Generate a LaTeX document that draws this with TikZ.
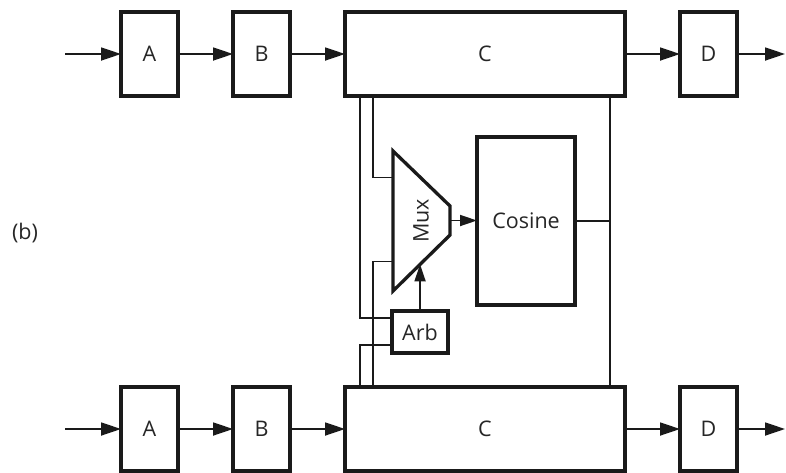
\documentclass[tikz,border=0pt]{standalone}
\usepackage{fontspec}
\setmainfont{Open Sans}
\usepackage{tikz}
\usetikzlibrary{arrows.meta,positioning,calc}
\definecolor{lnblack}{HTML}{1A1A1A}
\definecolor{txtgray}{HTML}{262626}
\newcommand{\lblfont}{\fontsize{21.5}{25}\selectfont}
\tikzset{
  flowarrow/.style={-{Triangle[length=20pt,width=13pt]}, line width=1.8pt, draw=lnblack},
  smallarrow/.style={-{Triangle[length=17pt,width=11pt]}, line width=1.8pt, draw=lnblack},
  wire/.style={line width=1.7pt, draw=lnblack},
  stage/.style={draw=lnblack, line width=3.3pt, minimum width=57pt, minimum height=84pt,
    inner sep=0pt, outer sep=0pt, text=txtgray, font=\lblfont},
  unit/.style={draw=lnblack, line width=3.3pt, inner sep=0pt, outer sep=0pt,
    text=txtgray, font=\lblfont},
  muxshape/.style={draw=lnblack, line width=3.3pt, line join=miter},
  tag/.style={text=txtgray, font=\lblfont, inner sep=0pt}
}

\begin{document}
\begin{tikzpicture}[x=1pt, y=-1pt, node distance=55pt]
        \useasboundingbox (0,0) rectangle (786,472);
        \node[tag] (lbl) at (25,233) {(b)};

        \node[stage] (a1) at (149.5,54) {A};
        \node[stage, right=of a1] (b1) {B};
        \node[stage, right=of b1, minimum width=280pt] (c1) {C};
        \node[stage, right=of c1] (d1) {D};
        \coordinate (in1) at (65,54);
        \coordinate (out1) at (785,54);

        \node[stage] (a2) at (149.5,429) {A};
        \node[stage, right=of a2] (b2) {B};
        \node[stage, right=of b2, minimum width=280pt] (c2) {C};
        \node[stage, right=of c2] (d2) {D};
        \coordinate (in2) at (65,429);
        \coordinate (out2) at (785,429);

        \draw[flowarrow] (in1) -- (a1);
        \draw[flowarrow] (a1) -- (b1);
        \draw[flowarrow] (b1) -- (c1);
        \draw[flowarrow] (c1) -- (d1);
        \draw[flowarrow] (d1) -- (out1);
        \draw[flowarrow] (in2) -- (a2);
        \draw[flowarrow] (a2) -- (b2);
        \draw[flowarrow] (b2) -- (c2);
        \draw[flowarrow] (c2) -- (d2);
        \draw[flowarrow] (d2) -- (out2);

        \coordinate (mux-tl) at (393,151);
        \coordinate (mux-tr) at (450,206);
        \coordinate (mux-br) at (450,235);
        \coordinate (mux-bl) at (393,291);
        \draw[muxshape] (mux-tl) -- (mux-tr) -- (mux-br) -- (mux-bl) -- cycle;
        \node[tag, rotate=90] (mux) at (421,221) {Mux};
        \coordinate (mux-out) at ($(mux-tr)!0.5!(mux-br)$);
        \coordinate (mux-in1) at ($(mux-tl)!0.19!(mux-bl)$);
        \coordinate (mux-in2) at ($(mux-tl)!0.79!(mux-bl)$);
        \coordinate (mux-sel) at ($(mux-bl)!0.475!(mux-br)$);

        \node[unit, minimum width=98pt, minimum height=168pt] (cos) at (526,221) {Cosine};
        \node[unit, minimum width=56pt, minimum height=42pt] (arb) at (420,332) {Arb};

        \coordinate (t1) at ($(c1.south west)+(15,0)$);
        \coordinate (t2) at ($(c1.south west)+(28,0)$);
        \coordinate (t3) at ($(c1.south east)+(-15,0)$);
        \coordinate (u1) at ($(c2.north west)+(15,0)$);
        \coordinate (u2) at ($(c2.north west)+(28,0)$);
        \coordinate (u3) at ($(c2.north east)+(-15,0)$);

        \draw[wire] (t1) |- ([yshift=14pt]arb.west);
        \draw[wire] (t2) |- (mux-in1);
        \draw[wire] (u2) |- (mux-in2);
        \draw[wire] (u1) |- ([yshift=-13pt]arb.west);
        \draw[wire] (t3) -- (u3);
        \draw[wire] (cos.east) -- (cos.east -| t3);

        \draw[smallarrow] (mux-out) -- (mux-out -| cos.west);
        \draw[smallarrow] (arb) -- (mux-sel);
    \end{tikzpicture}
\end{document}
